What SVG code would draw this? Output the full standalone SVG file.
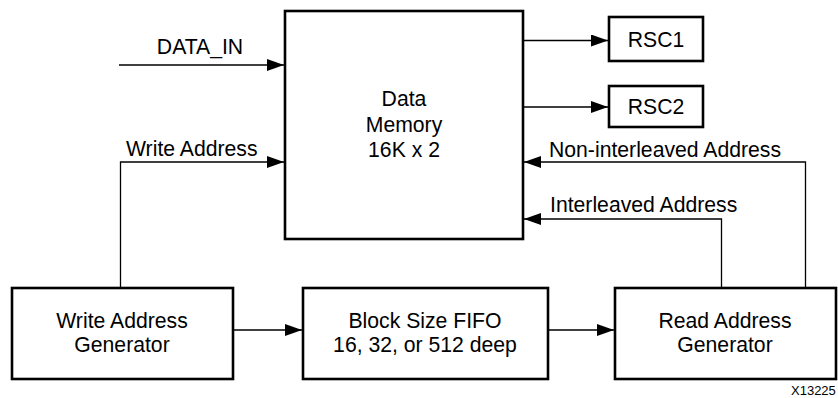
<svg xmlns="http://www.w3.org/2000/svg" width="838" height="398" viewBox="0 0 838 398">
<style>
.box{fill:#fff;stroke:#000;stroke-width:2.6}
.ln{fill:none;stroke:#000;stroke-width:1.3}
text{font-family:"Liberation Sans",Arial,sans-serif;font-size:21.2px;fill:#000}
.c{text-anchor:middle}
.small{font-size:13px}
</style>
<defs>
<marker id="ah" markerUnits="userSpaceOnUse" markerWidth="18" markerHeight="12" refX="17" refY="6" orient="auto">
<path d="M0,0 L17,6 L0,12 Z" fill="#000"/>
</marker>
</defs>
<g id="connectors">
<path class="ln" d="M119,65 H284" marker-end="url(#ah)"/>
<path class="ln" d="M120.5,288 V162 H284" marker-end="url(#ah)"/>
<path class="ln" d="M524,40.5 H608" marker-end="url(#ah)"/>
<path class="ln" d="M524,107 H608" marker-end="url(#ah)"/>
<path class="ln" d="M805.5,288 V162 H524" marker-end="url(#ah)"/>
<path class="ln" d="M721.5,288 V219 H524" marker-end="url(#ah)"/>
<path class="ln" d="M234,330 H302" marker-end="url(#ah)"/>
<path class="ln" d="M549,330 H614" marker-end="url(#ah)"/>
<text x="200" y="54" class="c">DATA_IN</text>
<text x="126" y="156">Write Address</text>
<text x="549" y="157">Non-interleaved Address</text>
<text x="550" y="212">Interleaved Address</text>
</g>
<g id="data-memory">
<rect class="box" x="285" y="11" width="238" height="228"/>
<text x="404" y="106" class="c">Data</text>
<text x="404" y="132" class="c">Memory</text>
<text x="404" y="157" class="c">16K x 2</text>
</g>
<g id="rsc1">
<rect class="box" x="609" y="17" width="94" height="44"/>
<text x="656" y="47" class="c">RSC1</text>
</g>
<g id="rsc2">
<rect class="box" x="609" y="86" width="94" height="41"/>
<text x="656" y="114" class="c">RSC2</text>
</g>
<g id="write-address-generator">
<rect class="box" x="12" y="288" width="221" height="91"/>
<text x="122" y="328" class="c">Write Address</text>
<text x="122" y="352" class="c">Generator</text>
</g>
<g id="block-size-fifo">
<rect class="box" x="303" y="288" width="245" height="91"/>
<text x="425" y="328" class="c">Block Size FIFO</text>
<text x="425" y="352" class="c">16, 32, or 512 deep</text>
</g>
<g id="read-address-generator">
<rect class="box" x="615" y="288" width="221" height="91"/>
<text x="725" y="328" class="c">Read Address</text>
<text x="725" y="352" class="c">Generator</text>
</g>
<text x="791" y="395" class="small">X13225</text>
</svg>
